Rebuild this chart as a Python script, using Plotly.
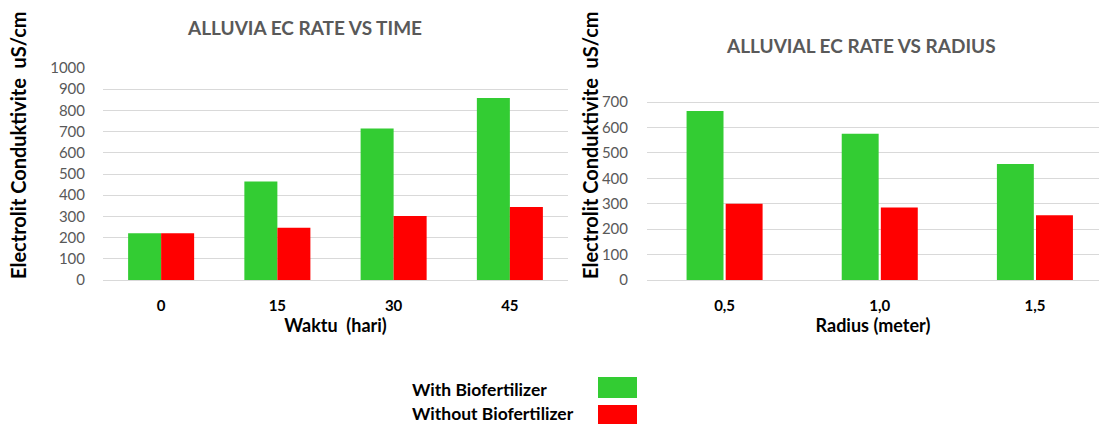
import plotly.graph_objects as go

# ---- data ----
days = ["0", "15", "30", "45"]
with_bio_time = [220, 465, 715, 858]
without_bio_time = [220, 246, 302, 344]

radius = ["0,5", "1,0", "1,5"]
with_bio_radius = [665, 575, 456]
without_bio_radius = [300, 285, 255]

left_yticks = [0, 100, 200, 300, 400, 500, 600, 700, 800, 900, 1000]
right_yticks = [0, 100, 200, 300, 400, 500, 600, 700]

series_names = ["With Biofertilizer", "Without Biofertilizer"]
GREEN = "#33cc33"
RED = "#ff0000"
FONT = "Lato"
W, H = 1099, 424

fig = go.Figure()

# left chart
fig.add_trace(go.Bar(x=days, y=with_bio_time, name=series_names[0], marker_color=GREEN,
                     width=0.284, offset=-0.284, xaxis="x", yaxis="y", showlegend=False))
fig.add_trace(go.Bar(x=days, y=without_bio_time, name=series_names[1], marker_color=RED,
                     width=0.284, offset=0.0, xaxis="x", yaxis="y", showlegend=False))
# right chart
fig.add_trace(go.Bar(x=radius, y=with_bio_radius, name=series_names[0], marker_color=GREEN,
                     width=0.238, offset=-0.245, xaxis="x2", yaxis="y2", showlegend=False))
fig.add_trace(go.Bar(x=radius, y=without_bio_radius, name=series_names[1], marker_color=RED,
                     width=0.238, offset=0.007, xaxis="x2", yaxis="y2", showlegend=False))

tickfont_y = dict(family=FONT, size=15, color="#595959")
tickfont_x = dict(family=FONT, size=15, color="#000000", weight="bold")
xtitle_font = dict(family=FONT, size=18, color="#000000", weight="bold")

ydom = [1 - 280 / H, 1 - 68 / H]

fig.update_layout(
    template="none",
    width=W, height=H,
    margin=dict(l=0, r=0, t=0, b=0),
    paper_bgcolor="white", plot_bgcolor="white",
    barmode="overlay",
    font=dict(family=FONT),
    xaxis=dict(type="category", domain=[103 / W, 568 / W], range=[-0.5, 3.5], showgrid=False,
               showline=False, zeroline=False, automargin=False,
               ticks="outside", ticklen=12, tickcolor="rgba(0,0,0,0)", tickfont=tickfont_x,
               title=dict(text="Waktu  (hari)", font=xtitle_font, standoff=2)),
    yaxis=dict(domain=ydom, range=[0, 1000], tickvals=left_yticks, showgrid=True, gridcolor="#d9d9d9",
               gridwidth=1, zeroline=True, zerolinecolor="#d9d9d9", zerolinewidth=1,
               showline=False, automargin=False, ticks="outside", ticklen=14,
               tickcolor="rgba(0,0,0,0)", tickfont=tickfont_y),
    xaxis2=dict(type="category", domain=[647 / W, 1.0], range=[-0.5, 2.413], showgrid=False,
                showline=False, zeroline=False, automargin=False,
                ticks="outside", ticklen=12, tickcolor="rgba(0,0,0,0)", tickfont=tickfont_x,
                title=dict(text="Radius (meter)", font=xtitle_font, standoff=2), anchor="y2"),
    yaxis2=dict(domain=ydom, range=[0, 834], tickvals=right_yticks, showgrid=True, gridcolor="#d9d9d9",
                gridwidth=1, zeroline=True, zerolinecolor="#d9d9d9", zerolinewidth=1,
                showline=False, automargin=False, ticks="outside", ticklen=15,
                tickcolor="rgba(0,0,0,0)", tickfont=tickfont_y, anchor="x2"),
)

ytitle = "Electrolit Conduktivite  uS/cm"
ytitle_font = dict(family=FONT, size=20, color="#000000", weight="bold")
title_font = dict(family=FONT, size=19, color="#595959", weight="bold")
legend_font = dict(family=FONT, size=17.5, color="#000000", weight="bold")

annotations = [
    dict(text="ALLUVIA EC RATE VS TIME", x=304 / W, y=1 - 28 / H, xref="paper", yref="paper",
         showarrow=False, font=title_font, xanchor="center", yanchor="middle"),
    dict(text="ALLUVIAL EC RATE VS RADIUS", x=861 / W, y=1 - 45 / H, xref="paper", yref="paper",
         showarrow=False, font=title_font, xanchor="center", yanchor="middle"),
    dict(text=ytitle, x=18 / W, y=1 - 145 / H, xref="paper", yref="paper", textangle=-90,
         showarrow=False, font=ytitle_font, xanchor="center", yanchor="middle"),
    dict(text=ytitle, x=590 / W, y=1 - 145 / H, xref="paper", yref="paper", textangle=-90,
         showarrow=False, font=ytitle_font, xanchor="center", yanchor="middle"),
    dict(text=series_names[0], x=410 / W, y=1 - 389 / H, xref="paper", yref="paper",
         showarrow=False, font=legend_font, xanchor="left", yanchor="middle"),
    dict(text=series_names[1], x=410 / W, y=1 - 413 / H, xref="paper", yref="paper",
         showarrow=False, font=legend_font, xanchor="left", yanchor="middle"),
]

shapes = [
    dict(type="rect", xref="paper", yref="paper", x0=598 / W, x1=637 / W,
         y0=1 - 398 / H, y1=1 - 377 / H, fillcolor=GREEN, line=dict(width=0)),
    dict(type="rect", xref="paper", yref="paper", x0=598 / W, x1=637 / W,
         y0=-0.02, y1=1 - 405 / H, fillcolor=RED, line=dict(width=0)),
]

fig.update_layout(annotations=annotations, shapes=shapes)

fig.write_html("out.html")
